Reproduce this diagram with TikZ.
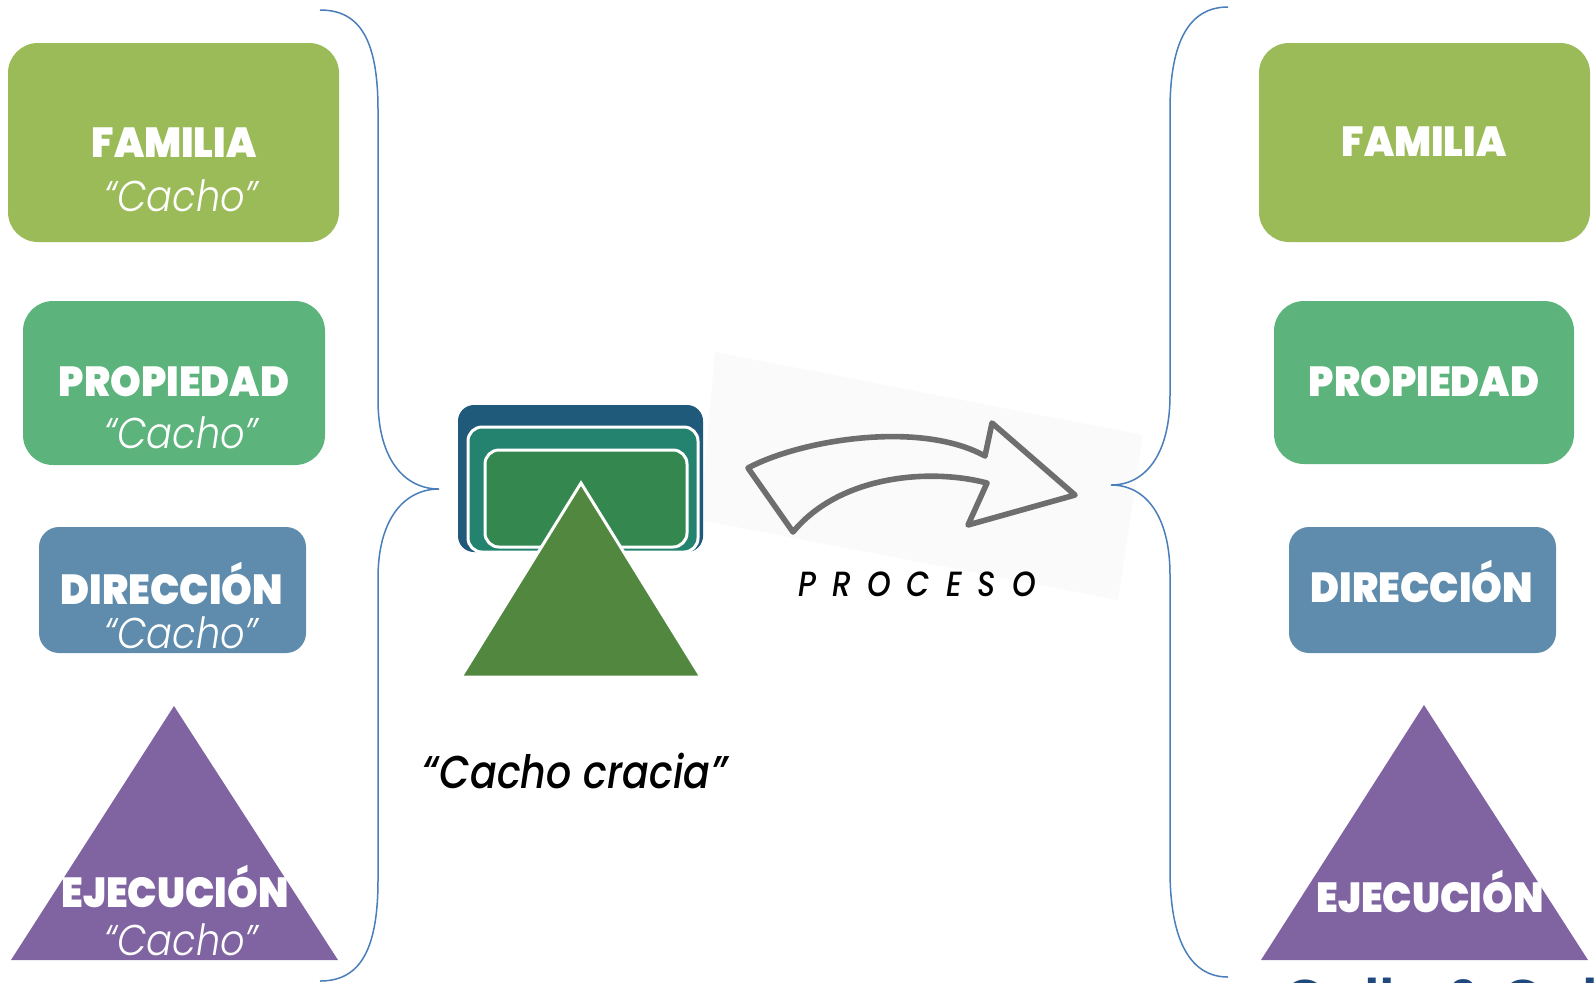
\documentclass[tikz,border=0pt]{standalone}
\usepackage{fontspec}
\IfFontExistsTF{Poppins Black}{\newfontfamily\heavyfont{Poppins Black}[FakeStretch=0.93]}{\newfontfamily\heavyfont{Poppins Bold}[FakeStretch=0.93]}
\IfFontExistsTF{Poppins Medium Italic}{\newfontfamily\popitfont{Poppins Medium Italic}[FakeStretch=0.86]}{\newfontfamily\popbase{Poppins}[FakeStretch=0.86]\newcommand\popitfont{\popbase\itshape}}
\IfFontExistsTF{Poppins Light Italic}{\newfontfamily\lightitfont{Poppins Light Italic}[FakeStretch=0.89]}{\newfontfamily\lightitbase{Poppins}[FakeStretch=0.89]\newcommand\lightitfont{\lightitbase\itshape}}
\IfFontExistsTF{Poppins SemiBold}{\newfontfamily\citefont{Poppins SemiBold}}{\newfontfamily\citefont{Poppins Bold}}
\definecolor{famgreen}{HTML}{9BBB59}
\definecolor{propgreen}{HTML}{5CB37C}
\definecolor{dirblue}{HTML}{5F8CAC}
\definecolor{ejpurple}{HTML}{8064A2}
\definecolor{bracecol}{HTML}{4A7EBB}
\definecolor{icondark}{HTML}{1F5A7B}
\definecolor{iconteal}{HTML}{24836F}
\definecolor{iconinner}{HTML}{33874F}
\definecolor{icontri}{HTML}{528740}
\definecolor{arrowgray}{HTML}{6E6E6E}
\definecolor{citeblue}{HTML}{1F497D}
\definecolor{faintbg}{HTML}{FAFAFA}
\begin{document}
\begin{tikzpicture}[x=0.5pt,y=-0.5pt,
  lbl/.style={text=white, font=\heavyfont\fontsize{21}{21}\selectfont, anchor=base, inner sep=0pt},
  sub/.style={text=white, font=\lightitfont\fontsize{21.5}{21.5}\selectfont, anchor=base, inner sep=0pt},
  bigbox/.style={rounded corners=15pt},
  smallbox/.style={rounded corners=10pt},
  bracest/.style={draw=bracecol, line width=0.75pt},
  iconbox/.style={draw=white, line width=1.5pt, rounded corners=7pt}]
\useasboundingbox (0,0) rectangle (1595,982);
\begin{scope}
\clip (0,0) rectangle (1595,982);
% ---------- left column ----------
\fill[famgreen, bigbox] (8,43) rectangle (339,242);
\node[lbl] (famL) at (174,157) {FAMILIA};
\node[sub] (famLc) at (181,211) {“Cacho”};
\fill[propgreen, bigbox] (23,301) rectangle (325,465);
\node[lbl] (propL) at (174,396) {PROPIEDAD};
\node[sub] (propLc) at (181,448) {“Cacho”};
\fill[dirblue, smallbox] (39,527) rectangle (306,653);
\node[lbl] (dirL) at (172,604) {DIRECCIÓN};
\node[sub] (dirLc) at (181,648) {“Cacho”};
\fill[ejpurple] (174,706) -- (338,960) -- (11,960) -- cycle;
\node[lbl] (ejeL) at (175,907) {EJECUCIÓN};
\node[sub] (ejeLc) at (181,955) {“Cacho”};
% ---------- faint backdrop of the arrow ----------
\fill[faintbg] (715,352) -- (1143,435) -- (1118,600) -- (700,520) -- cycle;
% ---------- braces ----------
\draw[bracest] (320,10) .. controls (360,10) and (378,40) .. (378,110) -- (378,400)
  .. controls (378,460) and (405,489) .. (439,489)
  .. controls (405,489) and (378,518) .. (378,578) -- (378,880)
  .. controls (378,950) and (360,981) .. (320,981);
\draw[bracest] (1228,7) .. controls (1190,7) and (1170,40) .. (1170,110) -- (1170,395)
  .. controls (1170,455) and (1145,485) .. (1111,485)
  .. controls (1145,485) and (1170,515) .. (1170,575) -- (1170,870)
  .. controls (1170,940) and (1190,977) .. (1228,977);
% ---------- centre icon ----------
\fill[icondark, rounded corners=8pt] (458,405) rectangle (703,552);
\filldraw[iconbox, fill=iconteal] (468,427) rectangle (698,552);
\filldraw[iconbox, fill=iconinner] (485,450) rectangle (687,547);
\filldraw[fill=icontri, draw=white, line width=1.5pt, line join=miter] (581,483) -- (701,677) -- (461,677) -- cycle;
\node[font=\popitfont\fontsize{23}{23}\selectfont, anchor=base, inner sep=0pt] (cracia) at (575,788) {“Cacho cracia”};
% ---------- arrow ----------
\draw[arrowgray, line width=2.8pt, line join=round, line cap=round]
  (748,468) .. controls (800,440) and (920,420) .. (985,456) -- (992,423) -- (1075,495)
  -- (968,525) -- (987,483) .. controls (930,468) and (840,475) .. (793,532) -- cycle;
\node[font=\popitfont\fontsize{17.5}{17.5}\selectfont, anchor=base, inner sep=0pt] (proceso) at (917,596)
  {P\hspace{8pt}R\hspace{8pt}O\hspace{8pt}C\hspace{8pt}E\hspace{8pt}S\hspace{8pt}O};
% ---------- right column ----------
\fill[famgreen, bigbox] (1259,43) rectangle (1590,242);
\node[lbl] (famR) at (1424,156) {FAMILIA};
\fill[propgreen, bigbox] (1274,301) rectangle (1574,464);
\node[lbl] (propR) at (1424,396) {PROPIEDAD};
\fill[dirblue, smallbox] (1289,527) rectangle (1556,653);
\node[lbl] (dirR) at (1422,602) {DIRECCIÓN};
\fill[ejpurple] (1424,705) -- (1588,960) -- (1261,960) -- cycle;
\node[lbl] (ejeR) at (1430,912) {EJECUCIÓN};
% ---------- citation, cut by the lower edge as in the reference ----------
\node[font=\citefont\fontsize{28}{28}\selectfont, text=citeblue, anchor=base west, inner sep=0pt] (cite) at (1283,1019) {Gallo \& Cabrera};
\end{scope}
\end{tikzpicture}
\end{document}
